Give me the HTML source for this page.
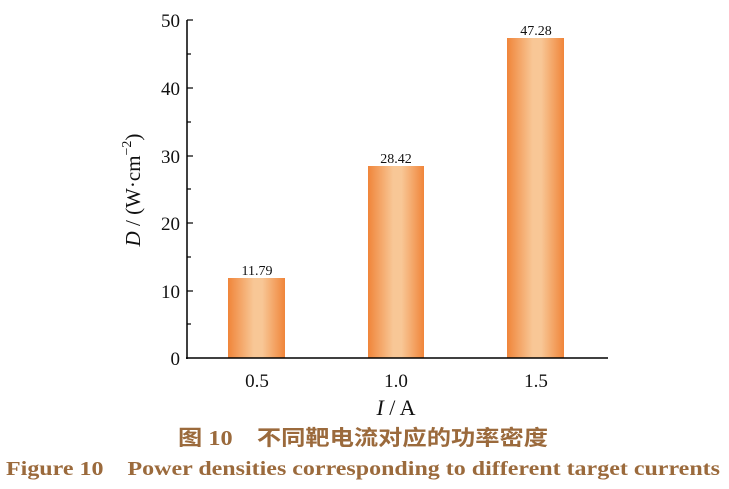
<!DOCTYPE html>
<html><head><meta charset="utf-8"><style>
html,body{margin:0;padding:0;background:#fff;width:729px;height:489px;overflow:hidden}
</style></head><body>
<svg width="729" height="489" viewBox="0 0 729 489" xmlns="http://www.w3.org/2000/svg">
<defs>
<linearGradient id="g" x1="0" x2="1" y1="0" y2="0">
<stop offset="0" stop-color="#f0853a"/>
<stop offset="0.45" stop-color="#f8c796"/>
<stop offset="0.6" stop-color="#f8c796"/>
<stop offset="1" stop-color="#f0853a"/>
</linearGradient>
</defs>
<g font-family="Liberation Serif, serif" fill="#111">
<rect x="228" y="278" width="57" height="80" fill="url(#g)"/>
<rect x="368" y="166" width="56" height="192" fill="url(#g)"/>
<rect x="507" y="38" width="57" height="320" fill="url(#g)"/>
<line x1="187" y1="20" x2="187" y2="359" stroke="#000" stroke-width="1.5"/>
<line x1="186" y1="358" x2="608" y2="358" stroke="#000" stroke-width="1.5"/>
<g stroke="#000" stroke-width="1.2">
<line x1="187" y1="20" x2="193" y2="20"/><line x1="187" y1="54" x2="191" y2="54"/>
<line x1="187" y1="88" x2="193" y2="88"/><line x1="187" y1="122" x2="191" y2="122"/>
<line x1="187" y1="156" x2="193" y2="156"/><line x1="187" y1="189" x2="191" y2="189"/>
<line x1="187" y1="223" x2="193" y2="223"/><line x1="187" y1="257" x2="191" y2="257"/>
<line x1="187" y1="291" x2="193" y2="291"/><line x1="187" y1="324" x2="191" y2="324"/>
</g>
<g font-size="19" text-anchor="end">
<text x="180" y="27">50</text><text x="180" y="95">40</text><text x="180" y="163">30</text>
<text x="180" y="230">20</text><text x="180" y="298">10</text><text x="180" y="365">0</text>
</g>
<g font-size="19" text-anchor="middle">
<text x="257" y="387">0.5</text><text x="396" y="387">1.0</text><text x="536" y="387">1.5</text>
</g>
<g font-size="14" text-anchor="middle">
<text x="257" y="275">11.79</text><text x="396" y="163">28.42</text><text x="536" y="35">47.28</text>
</g>
<text x="396" y="415" font-size="22" text-anchor="middle"><tspan font-style="italic">I</tspan> / A</text>
<text transform="translate(140,190) rotate(-90)" font-size="21" text-anchor="middle"><tspan font-style="italic">D</tspan> / (W·cm<tspan font-size="14" dy="-9">−2</tspan><tspan dy="9">)</tspan></text>
</g>
<text x="178" y="445" font-size="21" font-weight="bold" fill="#9b6a3c" textLength="370" lengthAdjust="spacingAndGlyphs" font-family="Liberation Serif, Noto Sans CJK SC, sans-serif">图 10　不同靶电流对应的功率密度</text>
<text x="6" y="475" font-size="20" font-weight="bold" fill="#9b6a3c" textLength="714" lengthAdjust="spacingAndGlyphs" font-family="Liberation Serif, serif">Figure 10　Power densities corresponding to different target currents</text>
</svg>
</body></html>
